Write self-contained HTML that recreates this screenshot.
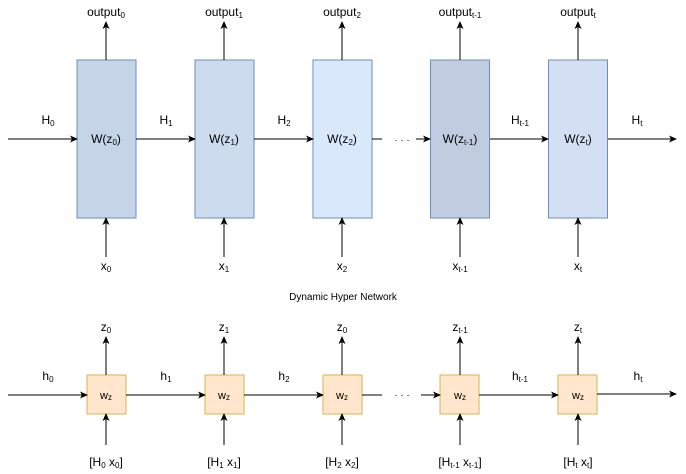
<!DOCTYPE html>
<html><head><style>body{margin:0;background:#fff}svg{display:block}</style></head><body>
<svg width="686" height="474" xmlns="http://www.w3.org/2000/svg" font-family="Liberation Sans, Arial, sans-serif" font-size="12" fill="#000">
<defs><marker id="a" markerWidth="8" markerHeight="8" refX="7" refY="4" orient="auto" markerUnits="userSpaceOnUse"><path d="M0,0.5 L8,4 L0,7.5 L2,4 z" fill="#000"/></marker></defs>
<g stroke="#6c8ebf" stroke-width="1">
<rect x="77" y="60" width="59" height="158" fill="#c6d4e8"/>
<rect x="195" y="60" width="59" height="158" fill="#cddbee"/>
<rect x="313" y="60" width="59" height="158" fill="#dae8fc"/>
<rect x="430.5" y="60" width="59" height="158" fill="#c0cde0"/>
<rect x="548.5" y="60" width="59" height="158" fill="#d3e0f3"/>
</g>
<g stroke="#d6b656" stroke-width="1" fill="#ffe6cc">
<rect x="87" y="375" width="39" height="39"/><rect x="205" y="375" width="39" height="39"/><rect x="323" y="375" width="39" height="39"/><rect x="440" y="375" width="39" height="39"/><rect x="558" y="375" width="39" height="39"/>
</g>
<g stroke="#000" stroke-width="1" marker-end="url(#a)">
<line x1="8" y1="139" x2="77" y2="139"/><line x1="136" y1="139" x2="195" y2="139"/><line x1="254" y1="139" x2="313" y2="139"/><line x1="416" y1="139" x2="430" y2="139"/><line x1="490" y1="139" x2="548" y2="139"/><line x1="608" y1="139" x2="676" y2="139"/>
<line x1="8" y1="395" x2="87" y2="395"/><line x1="126" y1="395" x2="205" y2="395"/><line x1="244" y1="395" x2="323" y2="395"/><line x1="421" y1="395" x2="440" y2="395"/><line x1="479" y1="395" x2="558" y2="395"/><line x1="597" y1="394" x2="676" y2="394"/>
<line x1="106" y1="60" x2="106" y2="22"/><line x1="224" y1="60" x2="224" y2="22"/><line x1="342" y1="60" x2="342" y2="22"/><line x1="460" y1="60" x2="460" y2="22"/><line x1="578" y1="60" x2="578" y2="22"/>
<line x1="106" y1="257" x2="106" y2="218"/><line x1="224" y1="257" x2="224" y2="218"/><line x1="342" y1="257" x2="342" y2="218"/><line x1="460" y1="257" x2="460" y2="218"/><line x1="578" y1="257" x2="578" y2="218"/>
<line x1="106" y1="375" x2="106" y2="337"/><line x1="224" y1="375" x2="224" y2="337"/><line x1="342" y1="375" x2="342" y2="337"/><line x1="460" y1="375" x2="460" y2="337"/><line x1="578" y1="375" x2="578" y2="337"/>
<line x1="106" y1="445" x2="106" y2="414"/><line x1="224" y1="445" x2="224" y2="414"/><line x1="342" y1="445" x2="342" y2="414"/><line x1="460" y1="445" x2="460" y2="414"/><line x1="578" y1="445" x2="578" y2="414"/>
</g>
<g stroke="#000" stroke-width="1"><line x1="372" y1="139" x2="382" y2="139"/><line x1="362" y1="395" x2="382" y2="395"/></g>
<g font-size="10" text-anchor="middle"><text x="402" y="143">·  ·  ·</text><text x="402" y="398">·  ·  ·</text></g>
<g text-anchor="middle">
<text x="106" y="16">output<tspan font-size="8" dy="2">0</tspan></text>
<text x="224" y="16">output<tspan font-size="8" dy="2">1</tspan></text>
<text x="342" y="16">output<tspan font-size="8" dy="2">2</tspan></text>
<text x="460" y="16">output<tspan font-size="8" dy="2">t-1</tspan></text>
<text x="578" y="16">output<tspan font-size="8" dy="2">t</tspan></text>
<text x="106" y="143">W(z<tspan font-size="8" dy="2">0</tspan><tspan dy="-2">)</tspan></text>
<text x="224" y="143">W(z<tspan font-size="8" dy="2">1</tspan><tspan dy="-2">)</tspan></text>
<text x="342" y="143">W(z<tspan font-size="8" dy="2">2</tspan><tspan dy="-2">)</tspan></text>
<text x="460" y="143">W(z<tspan font-size="8" dy="2">t-1</tspan><tspan dy="-2">)</tspan></text>
<text x="578" y="143">W(z<tspan font-size="8" dy="2">t</tspan><tspan dy="-2">)</tspan></text>
<text x="48" y="124">H<tspan font-size="8" dy="2">0</tspan></text>
<text x="166" y="124">H<tspan font-size="8" dy="2">1</tspan></text>
<text x="284" y="124">H<tspan font-size="8" dy="2">2</tspan></text>
<text x="520" y="124">H<tspan font-size="8" dy="2">t-1</tspan></text>
<text x="637" y="124">H<tspan font-size="8" dy="2">t</tspan></text>
<text x="106" y="270">x<tspan font-size="8" dy="2">0</tspan></text>
<text x="224" y="270">x<tspan font-size="8" dy="2">1</tspan></text>
<text x="342" y="270">x<tspan font-size="8" dy="2">2</tspan></text>
<text x="460" y="270">x<tspan font-size="8" dy="2">t-1</tspan></text>
<text x="578" y="270">x<tspan font-size="8" dy="2">t</tspan></text>
<text x="343" y="300" font-size="10">Dynamic Hyper Network</text>
<text x="106" y="331">z<tspan font-size="8" dy="2">0</tspan></text>
<text x="224" y="331">z<tspan font-size="8" dy="2">1</tspan></text>
<text x="342" y="331">z<tspan font-size="8" dy="2">0</tspan></text>
<text x="460" y="331">z<tspan font-size="8" dy="2">t-1</tspan></text>
<text x="578" y="331">z<tspan font-size="8" dy="2">t</tspan></text>
<text x="106" y="399" font-size="11">w<tspan font-size="8" dy="1">z</tspan></text>
<text x="224" y="399" font-size="11">w<tspan font-size="8" dy="1">z</tspan></text>
<text x="342" y="399" font-size="11">w<tspan font-size="8" dy="1">z</tspan></text>
<text x="460" y="399" font-size="11">w<tspan font-size="8" dy="1">z</tspan></text>
<text x="578" y="399" font-size="11">w<tspan font-size="8" dy="1">z</tspan></text>
<text x="48" y="380">h<tspan font-size="8" dy="2">0</tspan></text>
<text x="166" y="380">h<tspan font-size="8" dy="2">1</tspan></text>
<text x="284" y="380">h<tspan font-size="8" dy="2">2</tspan></text>
<text x="520" y="380">h<tspan font-size="8" dy="2">t-1</tspan></text>
<text x="638" y="380">h<tspan font-size="8" dy="2">t</tspan></text>
<text x="106" y="466">[H<tspan font-size="8" dy="2">0</tspan><tspan dy="-2"> x</tspan><tspan font-size="8" dy="2">0</tspan><tspan dy="-2">]</tspan></text>
<text x="224" y="466">[H<tspan font-size="8" dy="2">1</tspan><tspan dy="-2"> x</tspan><tspan font-size="8" dy="2">1</tspan><tspan dy="-2">]</tspan></text>
<text x="342" y="466">[H<tspan font-size="8" dy="2">2</tspan><tspan dy="-2"> x</tspan><tspan font-size="8" dy="2">2</tspan><tspan dy="-2">]</tspan></text>
<text x="460" y="466">[H<tspan font-size="8" dy="2">t-1</tspan><tspan dy="-2"> x</tspan><tspan font-size="8" dy="2">t-1</tspan><tspan dy="-2">]</tspan></text>
<text x="578" y="466">[H<tspan font-size="8" dy="2">t</tspan><tspan dy="-2"> x</tspan><tspan font-size="8" dy="2">t</tspan><tspan dy="-2">]</tspan></text>
</g>
</svg>
</body></html>
